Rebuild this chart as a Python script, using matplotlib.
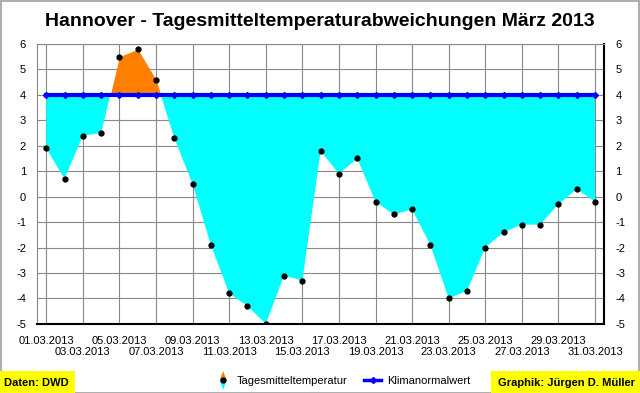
import numpy as np
import matplotlib.pyplot as plt
from matplotlib.lines import Line2D
from matplotlib.patches import Polygon, Rectangle
from matplotlib.legend_handler import HandlerBase

plt.rcParams['font.family'] = ['Liberation Sans', 'DejaVu Sans']
plt.rcParams['axes.unicode_minus'] = False

# data
days = np.arange(1, 32)
temps = [1.9, 0.7, 2.4, 2.5, 5.5, 5.8, 4.6, 2.3, 0.5, -1.9,
         -3.8, -4.3, -5.0, -3.1, -3.3, 1.8, 0.9, 1.5, -0.2, -0.7,
         -0.5, -1.9, -4.0, -3.7, -2.0, -1.4, -1.1, -1.1, -0.3, 0.3, -0.2]
normal = [4.0] * 31
date_labels = ['%02d.03.2013' % d for d in days]
y_ticks = list(range(-5, 7))


class TempHandler(HandlerBase):
    # orange/cyan drop with black dot, like the original legend icon
    def create_artists(self, legend, orig_handle, xd, yd, w, h, fontsize, trans):
        cx = xd + w / 2
        top = Polygon([[cx, yd + h * 1.7], [cx - 2.5, yd + h / 2], [cx + 2.5, yd + h / 2]],
                      closed=True, fc='#ff8000', ec='none', transform=trans)
        bot = Polygon([[cx, yd - h * 0.7], [cx - 2.5, yd + h / 2], [cx + 2.5, yd + h / 2]],
                      closed=True, fc='#00ffff', ec='none', transform=trans)
        dot = Line2D([cx], [yd + h / 2], marker='o', ms=3.5, color='black', transform=trans)
        return [top, bot, dot]


fig = plt.figure(figsize=(6.4, 3.93), dpi=100)
fig.patches.append(Rectangle((0.001, 0.001), 0.997, 0.997, transform=fig.transFigure,
                             fill=False, ec='#a0a0a0', lw=1.2))
ax = fig.add_axes([0.058, 0.176, 0.886, 0.712])

t = np.array(temps)
n = np.array(normal)
ax.fill_between(days, t, n, where=t >= n, interpolate=True, color='#ff8000', lw=0, zorder=2)
ax.fill_between(days, t, n, where=t <= n, interpolate=True, color='#00ffff', lw=0, zorder=2)
ax.plot(days, normal, color='#0000ff', lw=3, marker='D', ms=3, zorder=3)
ax.plot(days, temps, ls='none', marker='o', ms=3.5, color='black', zorder=4)

ax.set_xlim(0.5, 31.5)
ax.set_ylim(-5, 6)
ax.set_yticks(y_ticks)
ax.set_xticks(days[::2])
ax.set_xticklabels([''] * len(days[::2]))
ax.grid(True, color='#888888', lw=0.8, zorder=0)
ax.set_axisbelow(True)
ax.tick_params(axis='y', labelsize=8, length=0, pad=8, labelright=True, right=False)
ax.tick_params(axis='x', length=0)

# staggered date labels
for i, d in enumerate(days[::2]):
    row = 0 if i % 2 == 0 else 1
    ax.text(d, -5.67 - row * 0.43, date_labels[d - 1], ha='center', va='center',
            fontsize=8, transform=ax.transData)

for s in ['left', 'top']:
    ax.spines[s].set_color('#888888')
    ax.spines[s].set_linewidth(0.8)
for s in ['bottom', 'right']:
    ax.spines[s].set_color('black')
    ax.spines[s].set_linewidth(1.5)

fig.text(0.5, 0.945, 'Hannover - Tagesmitteltemperaturabweichungen März 2013',
         ha='center', va='center', fontsize=14, fontweight='bold')

temp_handle = Line2D([], [], color='black')
norm_handle = Line2D([], [], color='#0000ff', lw=2.5, marker='D', ms=3)
fig.legend([temp_handle, norm_handle], ['Tagesmitteltemperatur', 'Klimanormalwert'],
           handler_map={temp_handle: TempHandler()}, loc='center',
           bbox_to_anchor=(0.535, 0.03), ncol=2, frameon=False,
           handlelength=1.5, handletextpad=0.5, columnspacing=1.5,
           prop={'size': 8})

fig.text(0.006, 0.026, 'Daten: DWD', ha='left', va='center', fontsize=8, fontweight='bold',
         bbox=dict(boxstyle='square,pad=0.6', fc='#ffff00', ec='none'))
fig.text(0.992, 0.026, 'Graphik: Jürgen D. Müller', ha='right', va='center', fontsize=8,
         fontweight='bold', bbox=dict(boxstyle='square,pad=0.6', fc='#ffff00', ec='none'))

fig.savefig('out.png', dpi=100)
